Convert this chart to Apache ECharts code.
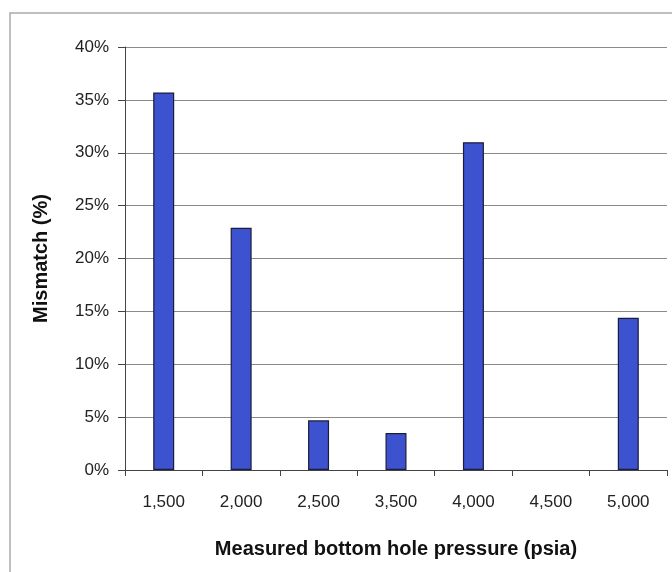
<!DOCTYPE html>
<html><head><meta charset="utf-8">
<script src="https://cdn.jsdelivr.net/npm/echarts@6/dist/echarts.min.js"></script>
<style>html,body{margin:0;padding:0;background:#fff}#c{width:672px;height:572px}</style>
</head><body><div id="c"></div>
<script>
const categories = ['1,500','2,000','2,500','3,500','4,000','4,500','5,000'];
const mismatch = [35.7, 22.9, 4.7, 3.5, 31.0, 0, 14.4];
const yTicks = [0,5,10,15,20,25,30,35,40];

const chart = echarts.init(document.getElementById('c'), null, {renderer:'canvas'});
chart.setOption({
  animation:false,
  backgroundColor:'#fff',
  graphic:[{type:'rect',shape:{x:10,y:13,width:700,height:600},style:{fill:'none',stroke:'#aaa',lineWidth:1.5},silent:true}],
  grid:{left:125,right:5,top:47,bottom:102},
  xAxis:{
    type:'category',data:categories,
    axisLine:{lineStyle:{color:'#444',width:1}},
    axisTick:{show:true,alignWithLabel:false,length:6,lineStyle:{color:'#444'}},
    axisLabel:{color:'#222',fontFamily:'Liberation Sans, Arial',fontSize:17,margin:24},
    name:'Measured bottom hole pressure (psia)',nameLocation:'middle',nameGap:69,
    nameTextStyle:{color:'#111',fontFamily:'Liberation Sans, Arial',fontSize:20,fontWeight:'bold'}
  },
  yAxis:{
    type:'value',min:0,max:40,interval:5,
    axisLine:{show:true,lineStyle:{color:'#444',width:1}},
    axisTick:{show:true,length:7,lineStyle:{color:'#444'}},
    splitLine:{lineStyle:{color:'#8a8a8a',width:1}},
    axisLabel:{color:'#222',fontFamily:'Liberation Sans, Arial',fontSize:17,margin:16,formatter:v=>v+'%'},
    name:'Mismatch (%)',nameLocation:'middle',nameGap:74,
    nameTextStyle:{color:'#111',fontFamily:'Liberation Sans, Arial',fontSize:20,fontWeight:'bold'}
  },
  series:[{
    type:'bar',
    data:mismatch.map(v => v === 0 ? {value:v, itemStyle:{borderWidth:0}} : v),
    barWidth:21,
    itemStyle:{color:'#3d52cf',borderColor:'#1c1c3c',borderWidth:1.2}
  }]
});
</script></body></html>
